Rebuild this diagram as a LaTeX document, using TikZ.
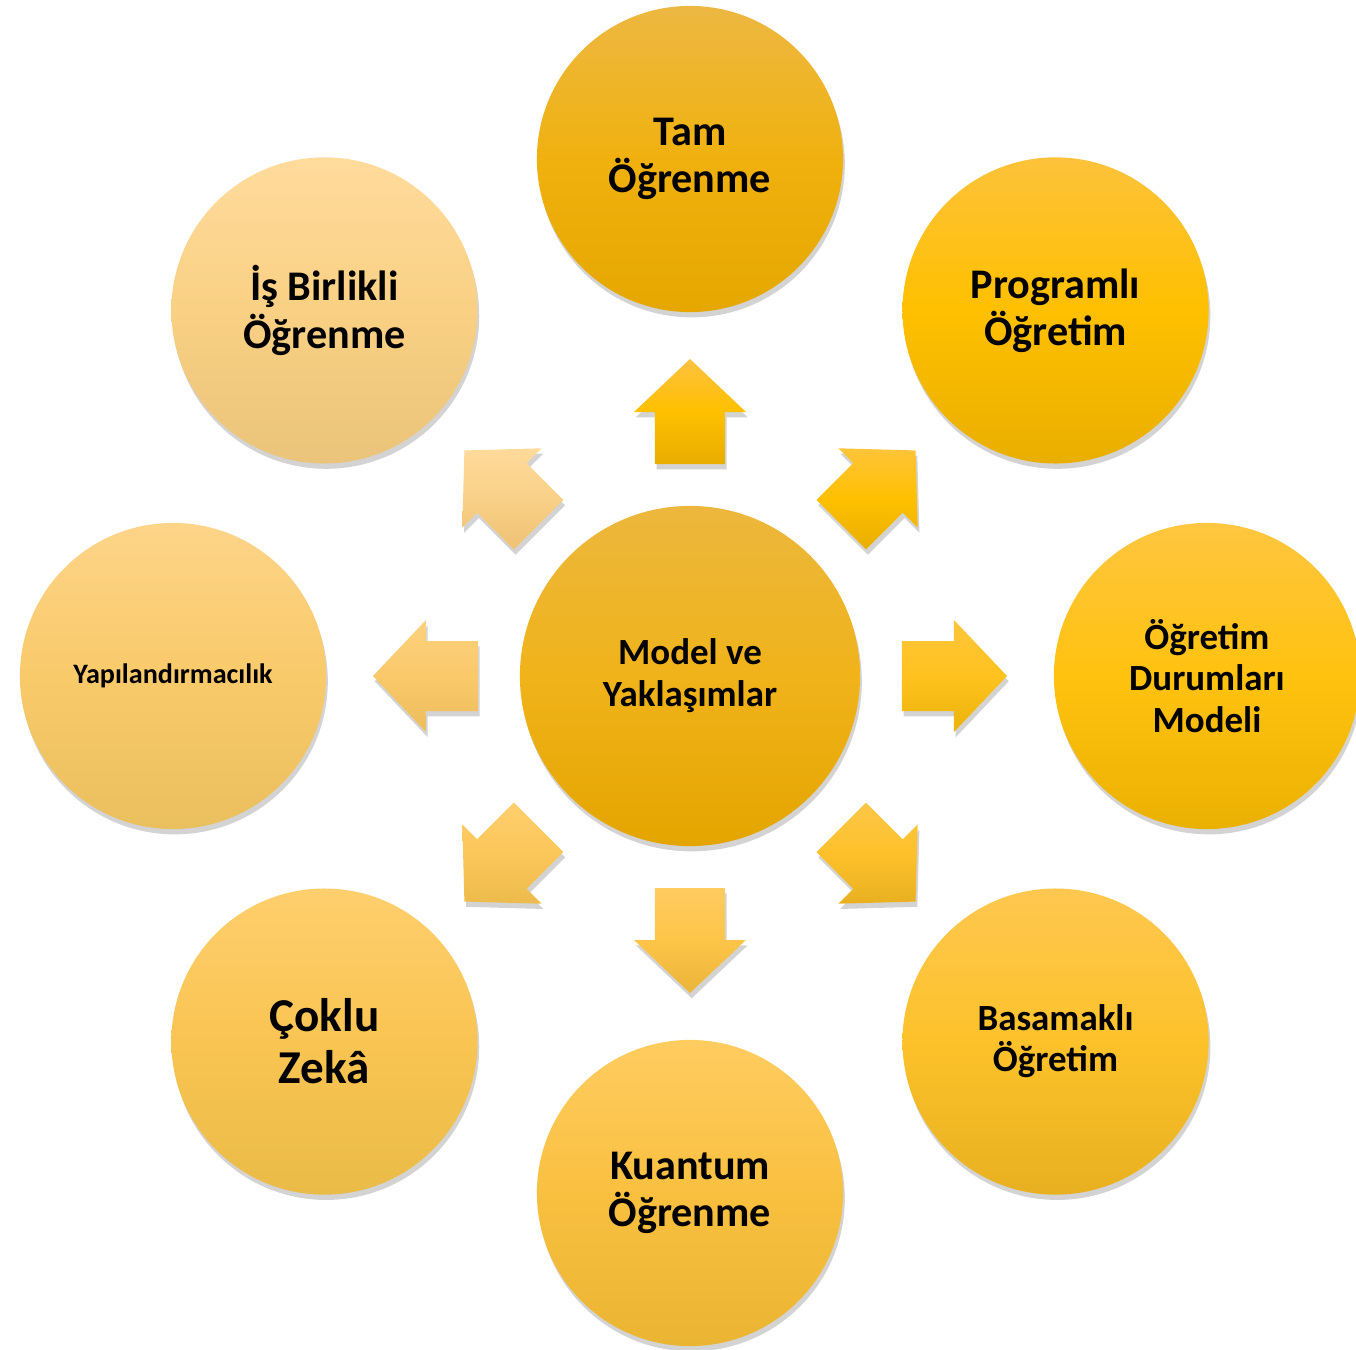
\documentclass[tikz,border=0pt]{standalone}
\usepackage{fontspec}
\setmainfont{Carlito}
\usetikzlibrary{shadows}

\definecolor{cModelT}{HTML}{ECB73D}\definecolor{cModelM}{HTML}{F0B31A}\definecolor{cModelB}{HTML}{E4A500}
\definecolor{cTamT}{HTML}{EDB842}\definecolor{cTamM}{HTML}{F0B10F}\definecolor{cTamB}{HTML}{E5A700}
\definecolor{cProgT}{HTML}{FDC23A}\definecolor{cProgM}{HTML}{FFC000}\definecolor{cProgB}{HTML}{E9AF00}
\definecolor{cDurT}{HTML}{FFC640}\definecolor{cDurM}{HTML}{FFC20F}\definecolor{cDurB}{HTML}{EBB102}
\definecolor{cBasT}{HTML}{FEC750}\definecolor{cBasM}{HTML}{FDC22A}\definecolor{cBasB}{HTML}{E8B020}
\definecolor{cKuaT}{HTML}{FFCC60}\definecolor{cKuaM}{HTML}{F9C040}\definecolor{cKuaB}{HTML}{EAB532}
\definecolor{cCokT}{HTML}{FFCF6E}\definecolor{cCokM}{HTML}{F9C452}\definecolor{cCokB}{HTML}{EABB48}
\definecolor{cYapT}{HTML}{FDD489}\definecolor{cYapM}{HTML}{F9CA6A}\definecolor{cYapB}{HTML}{EABF5E}
\definecolor{cIsT}{HTML}{FFDB9C}\definecolor{cIsM}{HTML}{F9D084}\definecolor{cIsB}{HTML}{EAC47A}
% arrows
\definecolor{aNT}{HTML}{FDC140}\definecolor{aNM}{HTML}{FFC000}\definecolor{aNB}{HTML}{E8AE00}
\definecolor{aNET}{HTML}{FFC43A}\definecolor{aNEM}{HTML}{FFC000}\definecolor{aNEB}{HTML}{E9AF00}
\definecolor{aET}{HTML}{FFC63C}\definecolor{aEM}{HTML}{FFC21E}\definecolor{aEB}{HTML}{EAB30A}
\definecolor{aSET}{HTML}{FCC748}\definecolor{aSEM}{HTML}{FEC12B}\definecolor{aSEB}{HTML}{E8B020}
\definecolor{aST}{HTML}{FFCB60}\definecolor{aSM}{HTML}{FDC548}\definecolor{aSB}{HTML}{EBB43A}
\definecolor{aSWT}{HTML}{FFCE6E}\definecolor{aSWM}{HTML}{FBC75A}\definecolor{aSWB}{HTML}{EDBA4C}
\definecolor{aWT}{HTML}{FDD27E}\definecolor{aWM}{HTML}{F9C96A}\definecolor{aWB}{HTML}{EDBC5C}
\definecolor{aNWT}{HTML}{FFDA9A}\definecolor{aNWM}{HTML}{F9D088}\definecolor{aNWB}{HTML}{EFC274}

\tikzset{
  softshadow/.style={drop shadow={shadow xshift=0.5pt, shadow yshift=-1.5pt, opacity=0.35}},
  bubble/.style={circle, inner sep=0pt, minimum size=3.06cm, align=center,
    font=\bfseries\fontsize{12}{13.4}\selectfont, softshadow},
  tint/.style n args={3}{top color=#1, bottom color=#3, middle color=#2}
}

% block arrow: centre, direction, colour prefix
\newcommand\blockarrow[3]{%
  \shade[softshadow, tint={#3T}{#3M}{#3B}, shift={#1}, rotate=#2]
    (-52,-35) -- (0,-35) -- (0,-56) -- (53,0) -- (0,56) -- (0,35) -- (-52,35) -- cycle;}

\begin{document}
\begin{tikzpicture}[x=0.01cm, y=0.01cm]
  \useasboundingbox (-690,-674) rectangle (666,676);

  \node[bubble, minimum size=3.4cm, tint={cModelT}{cModelM}{cModelB},
        font=\bfseries\fontsize{10.5}{11.9}\selectfont] (model) at (0,0) {Model ve\\Yaklaşımlar};

  \node[bubble, tint={cTamT}{cTamM}{cTamB}] (tam) at (90:517) {Tam\\Öğrenme};
  \node[bubble, tint={cProgT}{cProgM}{cProgB}] (prog) at (45:517) {Programlı\\Öğretim};
  \node[bubble, tint={cDurT}{cDurM}{cDurB},
        font=\bfseries\fontsize{10.5}{11.7}\selectfont] (durum) at (0:517) {Öğretim\\Durumları\\Modeli};
  \node[bubble, tint={cBasT}{cBasM}{cBasB},
        font=\bfseries\fontsize{10.5}{11.7}\selectfont] (basamak) at (-45:517) {Basamaklı\\Öğretim};
  \node[bubble, tint={cKuaT}{cKuaM}{cKuaB}] (kuantum) at (-90:517) {Kuantum\\Öğrenme};
  \node[bubble, tint={cCokT}{cCokM}{cCokB},
        font=\bfseries\fontsize{13.4}{14.8}\selectfont] (coklu) at (-135:517) {Çoklu\\Zekâ};
  \node[bubble, tint={cYapT}{cYapM}{cYapB},
        font=\bfseries\fontsize{8}{9.6}\selectfont] (yapi) at (180:517) {Yapılandırmacılık};
  \node[bubble, tint={cIsT}{cIsM}{cIsB}] (isbir) at (135:517) {İş Birlikli\\Öğrenme};

  \blockarrow{(90:264)}{90}{aN}
  \blockarrow{(45:266)}{45}{aNE}
  \blockarrow{(0:264)}{0}{aE}
  \blockarrow{(-45:266)}{-45}{aSE}
  \blockarrow{(-90:264)}{-90}{aS}
  \blockarrow{(-135:266)}{-135}{aSW}
  \blockarrow{(180:264)}{180}{aW}
  \blockarrow{(135:266)}{135}{aNW}
\end{tikzpicture}
\end{document}
